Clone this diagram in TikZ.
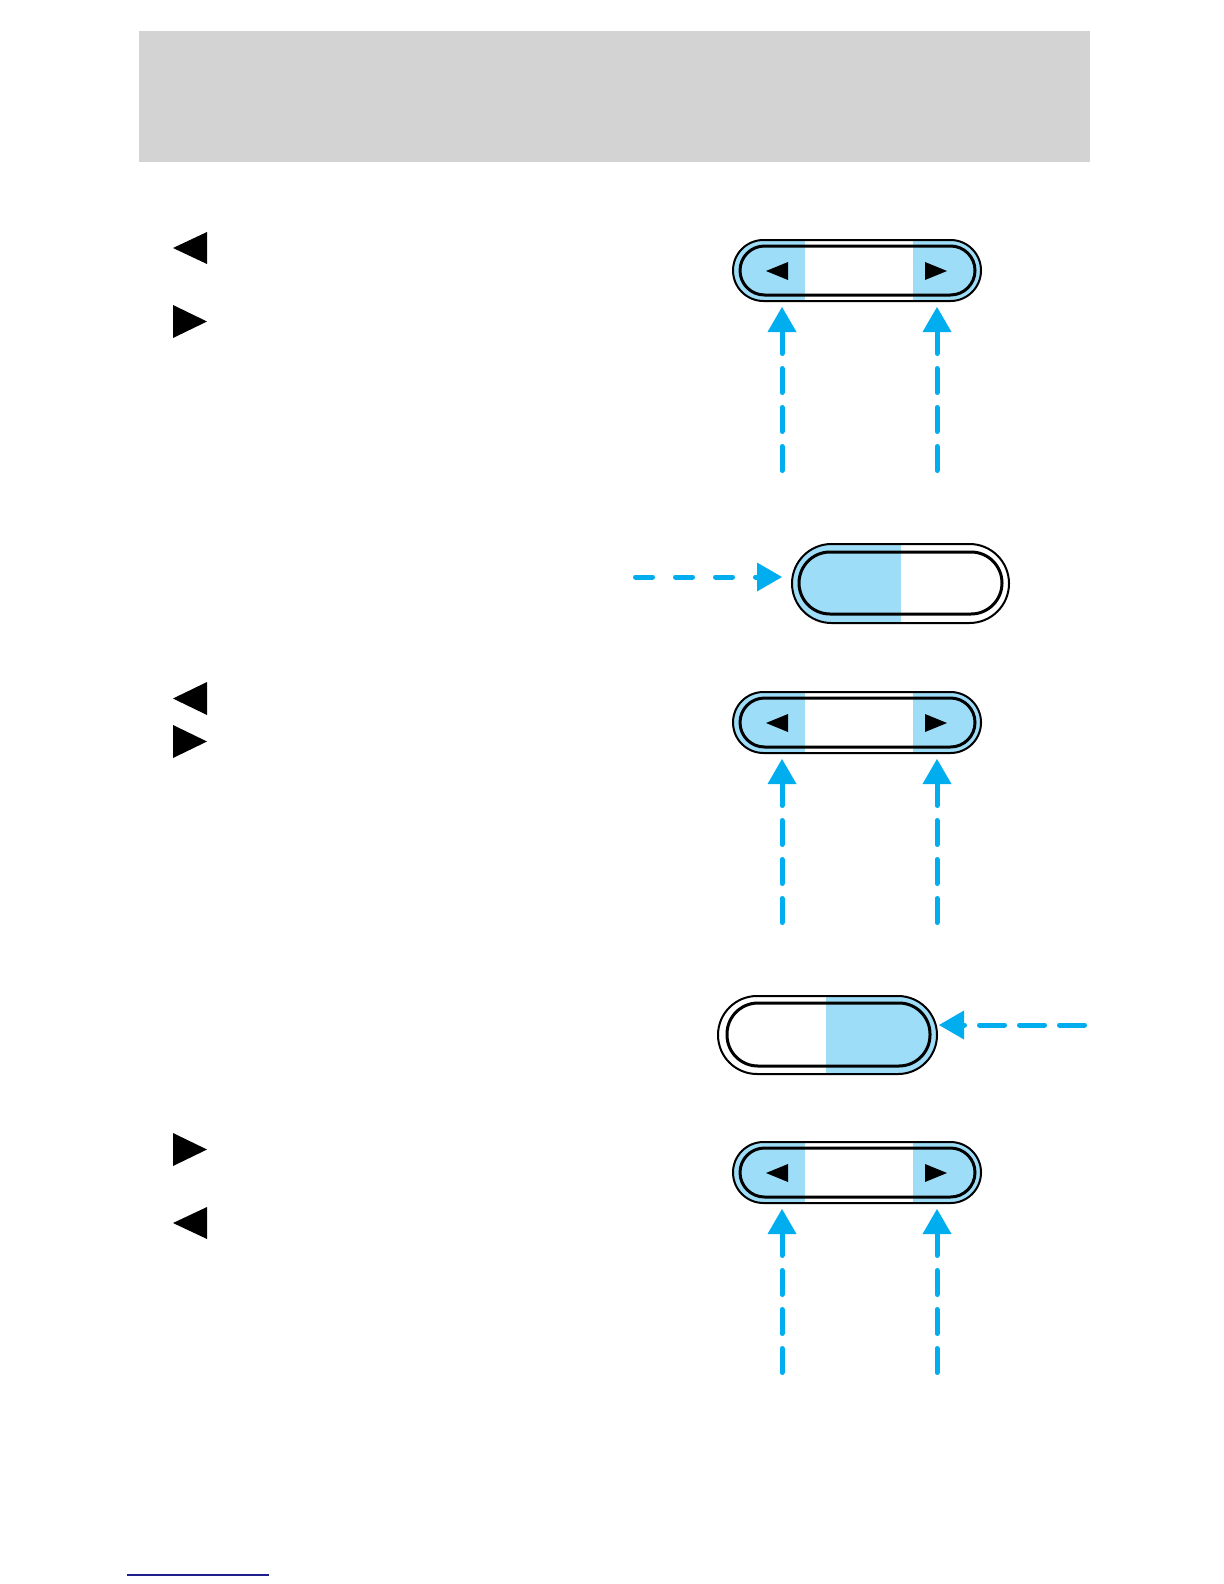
\documentclass[tikz,border=0pt]{standalone}
\usetikzlibrary{arrows.meta}
\definecolor{btnblue}{RGB}{158,221,247}
\definecolor{arrowblue}{RGB}{0,174,239}
\definecolor{hdrgray}{RGB}{211,211,211}
\definecolor{linkblue}{RGB}{30,30,140}
\tikzset{
  pointer/.style={draw=arrowblue, line width=2.5pt, line cap=round,
    -{Triangle[length=12.5pt,width=14.5pt,line width=0pt]}},
  vdash/.style={pointer, dash pattern=on 12pt off 7.5pt},
  hdash/.style={pointer, dash pattern=on 8.5pt off 11.5pt},
  hdashlong/.style={pointer, dash pattern=on 12.5pt off 7.5pt},
  outerring/.style={draw=black, line width=1pt},
  innerring/.style={draw=black, line width=1.5pt},
  blacktri/.style={fill=black},
}
\newcommand\RockerPair[2]{%
\begin{scope}[shift={(0,#2)}]
  \begin{scope}
    \clip[rounded corners=15.25pt] (733,240) rectangle (981,301);
    \fill[btnblue] (733,240) rectangle (805,301);
    \fill[btnblue] (913,240) rectangle (981,301);
  \end{scope}
  \draw[outerring, rounded corners=15.25pt] (733,240) rectangle (981,301);
  \draw[innerring, rounded corners=12.25pt] (740,246) rectangle (975,295);
  \fill[blacktri] (788,262) -- (766,271) -- (788,280) -- cycle;
  \fill[blacktri] (925,262) -- (947,271) -- (925,280) -- cycle;
  \coordinate (#1-ltip) at (782,307);
  \coordinate (#1-ltail) at (782,470.5);
  \coordinate (#1-rtip) at (937,307);
  \coordinate (#1-rtail) at (937,470.5);
  \draw[vdash] (#1-ltail) -- (#1-ltip);
  \draw[vdash] (#1-rtail) -- (#1-rtip);
\end{scope}}
\begin{document}
\begin{tikzpicture}[x=0.5pt,y=-0.5pt]
\useasboundingbox (0,0) rectangle (1224,1584);
\fill[white] (0,0) rectangle (1224,1584);
% header band
\fill[hdrgray] (139,31) rectangle (1090,162);

% left side triangles, group 1
\fill[blacktri] (207,232) -- (173,248) -- (207,264) -- cycle;
\fill[blacktri] (173,305) -- (207,321.5) -- (173,338) -- cycle;
% group 2
\fill[blacktri] (207,682) -- (173,698.5) -- (207,715) -- cycle;
\fill[blacktri] (173,725) -- (207,741.5) -- (173,758) -- cycle;
% group 3
\fill[blacktri] (173,1133) -- (207,1149.5) -- (173,1166) -- cycle;
\fill[blacktri] (207,1207) -- (173,1223) -- (207,1239) -- cycle;

% rocker buttons
\RockerPair{btnA}{0}
\RockerPair{btnC}{452}
\RockerPair{btnE}{902}

% button 2 (left half pressed)
\begin{scope}
  \clip[rounded corners=19.75pt] (792,544) rectangle (1009,623);
  \fill[btnblue] (792,544) rectangle (901,623);
\end{scope}
\draw[outerring, rounded corners=19.75pt] (792,544) rectangle (1009,623);
\draw[innerring, rounded corners=15.5pt] (799,552) rectangle (1002,614);
\coordinate (btnB-tip) at (782,577);
\coordinate (btnB-tail) at (635.5,577);
\draw[hdash] (btnB-tail) -- (btnB-tip);

% button 4 (right half pressed)
\begin{scope}
  \clip[rounded corners=19.5pt] (718,996) rectangle (937,1074);
  \fill[btnblue] (826,996) rectangle (937,1074);
\end{scope}
\draw[outerring, rounded corners=19.5pt] (718,996) rectangle (937,1074);
\draw[innerring, rounded corners=15.5pt] (727,1003) rectangle (930,1066);
\coordinate (btnD-tip) at (939,1025);
\coordinate (btnD-tail) at (1084.5,1025);
\draw[hdashlong] (btnD-tail) -- (btnD-tip);

% bottom link rule
\draw[linkblue, line width=1pt] (127,1575) -- (269,1575);
\end{tikzpicture}
\end{document}
